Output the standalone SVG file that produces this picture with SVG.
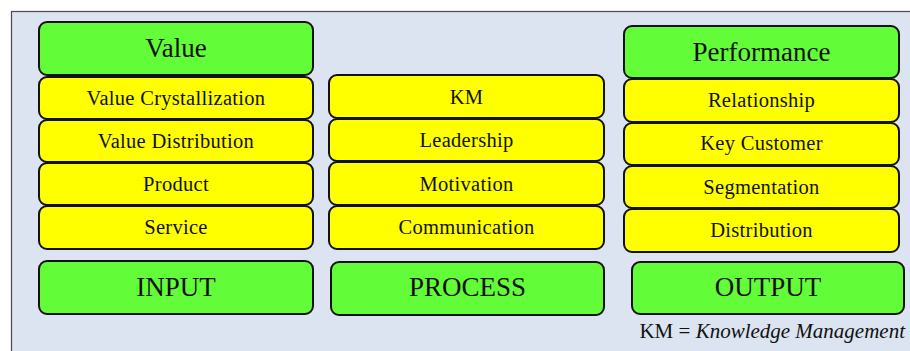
<svg xmlns="http://www.w3.org/2000/svg" width="910" height="351" viewBox="0 0 910 351">
  <style>
    .panel { fill: #dbe4f0; stroke: #4a4a4a; stroke-width: 1.2; }
    .box { stroke: #111; stroke-width: 2; }
    .head { fill: #62fc38; }
    .item { fill: #ffff00; }
    text { font-family: "Liberation Serif", "Times New Roman", serif; fill: #111; text-anchor: middle; }
    .big { font-size: 27px; }
    .small { font-size: 20.5px; letter-spacing: 0.3px; }
    .note { font-size: 21px; text-anchor: end; }
  </style>
  <rect width="910" height="351" fill="#ffffff"/>
  <rect class="panel" x="11.5" y="11.5" width="910" height="360"/>

  <!-- Input column -->
  <g id="value"><rect class="box head" x="39" y="22" width="274" height="53" rx="8"/><text class="big" x="176" y="57">Value</text></g>
  <g id="value-crystallization"><rect class="box item" x="39" y="77" width="274" height="42" rx="8"/><text class="small" x="176" y="105">Value Crystallization</text></g>
  <g id="value-distribution"><rect class="box item" x="39" y="120" width="274" height="42" rx="8"/><text class="small" x="176" y="148">Value Distribution</text></g>
  <g id="product"><rect class="box item" x="39" y="163" width="274" height="42" rx="8"/><text class="small" x="176" y="191">Product</text></g>
  <g id="service"><rect class="box item" x="39" y="206" width="274" height="43" rx="8"/><text class="small" x="176" y="234">Service</text></g>
  <g id="input"><rect class="box head" x="39" y="261" width="274" height="53" rx="8"/><text class="big" x="176" y="296">INPUT</text></g>

  <!-- Process column -->
  <g id="km"><rect class="box item" x="329" y="75" width="275" height="43" rx="8"/><text class="small" x="466.5" y="104">KM</text></g>
  <g id="leadership"><rect class="box item" x="329" y="119" width="275" height="42" rx="8"/><text class="small" x="466.5" y="147">Leadership</text></g>
  <g id="motivation"><rect class="box item" x="329" y="162" width="275" height="43" rx="8"/><text class="small" x="466.5" y="191">Motivation</text></g>
  <g id="communication"><rect class="box item" x="329" y="206" width="275" height="43" rx="8"/><text class="small" x="466.5" y="234">Communication</text></g>
  <g id="process"><rect class="box head" x="331" y="262" width="273" height="53" rx="8"/><text class="big" x="467.5" y="296">PROCESS</text></g>

  <!-- Output column -->
  <g id="performance"><rect class="box head" x="624" y="26" width="275" height="52" rx="8"/><text class="big" x="761.5" y="61">Performance</text></g>
  <g id="relationship"><rect class="box item" x="624" y="79" width="275" height="43" rx="8"/><text class="small" x="761.5" y="107">Relationship</text></g>
  <g id="key-customer"><rect class="box item" x="624" y="123" width="275" height="42" rx="8"/><text class="small" x="761.5" y="150">Key Customer</text></g>
  <g id="segmentation"><rect class="box item" x="624" y="166" width="275" height="42" rx="8"/><text class="small" x="761.5" y="194">Segmentation</text></g>
  <g id="distribution"><rect class="box item" x="624" y="209" width="275" height="43" rx="8"/><text class="small" x="761.5" y="237">Distribution</text></g>
  <g id="output"><rect class="box head" x="632" y="262" width="272" height="52" rx="8"/><text class="big" x="768" y="296">OUTPUT</text></g>

  <g id="connectors"/>

  <text class="note" x="905" y="338">KM = <tspan font-style="italic">Knowledge Management</tspan></text>
</svg>
